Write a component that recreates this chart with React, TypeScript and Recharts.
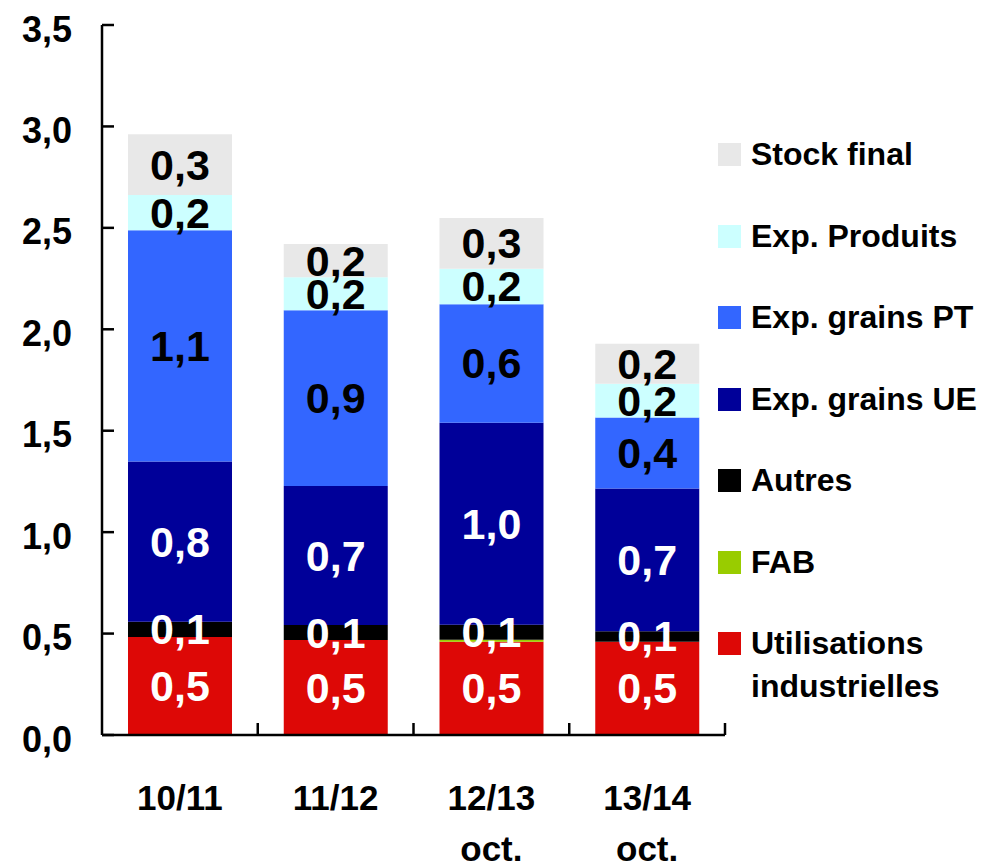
import { BarChart, Bar, XAxis, YAxis, LabelList, Legend } from 'recharts';

const categories = ['10/11', '11/12', '12/13', '13/14'];
const subLabels = ['', '', 'oct.', 'oct.'];
const utilisations = [0.483, 0.468, 0.46, 0.46];
const fab = [0, 0, 0.01, 0];
const autres = [0.075, 0.074, 0.074, 0.052];
const expUE = [0.79, 0.685, 0.995, 0.703];
const expPT = [1.14, 0.867, 0.585, 0.35];
const expProduits = [0.174, 0.163, 0.174, 0.167];
const stockFinal = [0.3, 0.163, 0.25, 0.197];
const yTicks = [0, 0.5, 1, 1.5, 2, 2.5, 3, 3.5];

const FONT = "'Liberation Sans', Arial, sans-serif";
const W = 1003;
const H = 866;
const X_AXIS_H = 30;
const M = { top: 25, right: 278, bottom: 131 - X_AXIS_H, left: 12 };
const Y_AXIS_W = 90;

// stacking order, bottom to top
const series = [
  { key: 'util', name: 'Utilisations\nindustrielles', color: '#DD0806', text: '#fff', values: utilisations, label: true },
  { key: 'fab', name: 'FAB', color: '#99CC00', text: '#fff', values: fab, label: false },
  { key: 'autres', name: 'Autres', color: '#000000', text: '#fff', values: autres, label: true },
  { key: 'ue', name: 'Exp. grains UE', color: '#000099', text: '#fff', values: expUE, label: true },
  { key: 'pt', name: 'Exp. grains PT', color: '#3366FF', text: '#000', values: expPT, label: true },
  { key: 'prod', name: 'Exp. Produits', color: '#CCFFFF', text: '#000', values: expProduits, label: true },
  { key: 'stock', name: 'Stock final', color: '#E8E8E8', text: '#000', values: stockFinal, label: true },
];

const data = categories.map((c, i) => {
  const row: any = { name: c, sub: subLabels[i] };
  series.forEach((s) => (row[s.key] = s.values[i]));
  return row;
});

const fmt = (v: number) => (Math.round(v * 10) / 10).toFixed(1).replace('.', ',');

const halfBand = (W - M.left - Y_AXIS_W - M.right) / categories.length / 2;

const YTick = (props: any) => {
  const { x, y, payload } = props;
  return (
    <g>
      <line x1={x} x2={x + 12} y1={y} y2={y} stroke="#000" strokeWidth={2.5} />
      <text x={x - 30} y={y + 4} textAnchor="end" dominantBaseline="central"
        fontFamily={FONT} fontWeight="bold" fontSize={36} fill="#000">
        {fmt(payload.value)}
      </text>
    </g>
  );
};

const XTick = (props: any) => {
  const { x, y, payload, index } = props;
  return (
    <g>
      <line x1={x + halfBand} x2={x + halfBand} y1={y} y2={y - 12} stroke="#000" strokeWidth={2.5} />
      <text x={x} y={y + 75} textAnchor="middle" fontFamily={FONT} fontWeight="bold" fontSize={35} fill="#000">
        {payload.value}
      </text>
      {subLabels[index] && (
        <text x={x} y={y + 126} textAnchor="middle" fontFamily={FONT} fontWeight="bold" fontSize={35} fill="#000">
          {subLabels[index]}
        </text>
      )}
    </g>
  );
};

const makeLabel = (color: string) => (props: any) => {
  const { x, y, width, height, value } = props;
  return (
    <text x={x + width / 2} y={y + height / 2} textAnchor="middle" dominantBaseline="central"
      fontFamily={FONT} fontWeight="bold" fontSize={43} fill={color}>
      {fmt(value)}
    </text>
  );
};

const LegendBox = () => (
  <div style={{ fontFamily: FONT, fontWeight: 'bold', fontSize: 32, color: '#000' }}>
    {[...series].reverse().map((s) => (
      <div key={s.key} style={{ display: 'flex', alignItems: 'flex-start', height: 81.5 }}>
        <div style={{ width: 23, height: 23, background: s.color, flex: 'none' }} />
        <div style={{ marginLeft: 10, lineHeight: '43px', marginTop: -10, whiteSpace: 'pre' }}>{s.name}</div>
      </div>
    ))}
  </div>
);

export default function App() {
  return (
    <div style={{ position: 'absolute', left: 0, top: 0, width: W, height: H, background: '#fff' }}>
      <BarChart width={W} height={H} data={data} margin={M}>
        <YAxis
          width={Y_AXIS_W}
          domain={[0, 3.5]}
          ticks={yTicks}
          interval={0}
          axisLine={{ stroke: '#000', strokeWidth: 2.5 }}
          tickLine={false}
          tickSize={0}
          tickMargin={0}
          tick={<YTick />}
        />
        <XAxis
          dataKey="name"
          height={X_AXIS_H}
          interval={0}
          axisLine={{ stroke: '#000', strokeWidth: 2.5 }}
          tickLine={false}
          tickSize={0}
          tickMargin={0}
          tick={<XTick />}
        />
        <Legend
          layout="vertical"
          align="center"
          verticalAlign="middle"
          wrapperStyle={{ left: 718, top: 143, width: 285 }}
          content={<LegendBox />}
        />
        {series.map((s) => (
          <Bar key={s.key} dataKey={s.key} name={s.name} stackId="a" fill={s.color} barSize={104} isAnimationActive={false}>
            {s.label && <LabelList dataKey={s.key} content={makeLabel(s.text)} />}
          </Bar>
        ))}
      </BarChart>
    </div>
  );
}
